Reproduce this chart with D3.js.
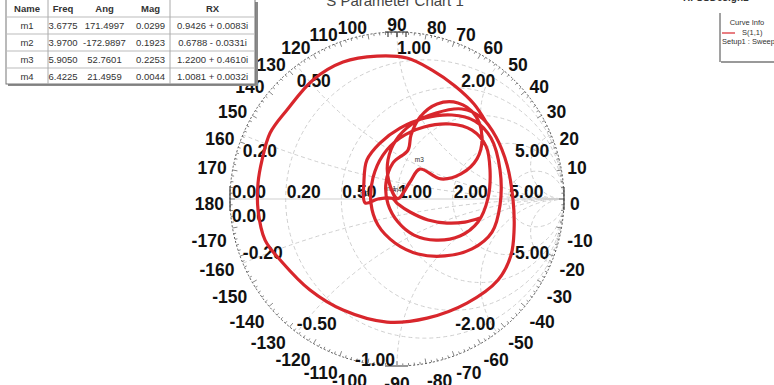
<!DOCTYPE html>
<html><head><meta charset="utf-8">
<script src="https://cdn.jsdelivr.net/npm/d3@7"></script>
<style>
html,body{margin:0;padding:0;background:#fff;}
svg{display:block;font-family:"Liberation Sans",Arial,sans-serif;}
</style></head><body>
<svg id="chart" width="774" height="385"></svg>
<script>
// S(1,1) reflection coefficient along the sweep (real / imaginary parts)
const s11Re = [0.497,0.407,0.299,0.186,0.078,0.006,-0.030,-0.114,-0.191,-0.198,-0.180,-0.102,0.018,0.168,0.329,0.467,0.563,0.617,0.617,0.569,0.449,0.287,0.126,-0.012,-0.114,-0.156,-0.144,-0.084,0.018,0.162,0.317,0.449,0.533,0.557,0.545,0.485,0.377,0.234,0.102,0.006,-0.054,-0.066,-0.024,0.066,0.084,0.138,0.240,0.365,0.467,0.509,0.479,0.383,0.263,0.136,0.078,0.004,-0.048,-0.054,-0.006,0.090,0.234,0.389,0.509,0.593,0.659,0.695,0.701,0.683,0.605,0.419,0.180,-0.060,-0.323,-0.521,-0.689,-0.790,-0.832,-0.832,-0.808,-0.760,-0.659,-0.503,-0.323,-0.120,0.060,0.210,0.347,0.461,0.533];
const s11Im = [-0.114,-0.138,-0.144,-0.126,-0.078,-0.030,0.004,0.000,-0.023,0.102,0.234,0.335,0.425,0.485,0.503,0.467,0.365,0.174,-0.036,-0.198,-0.299,-0.341,-0.329,-0.263,-0.156,-0.024,0.126,0.263,0.365,0.431,0.449,0.413,0.317,0.174,0.006,-0.138,-0.222,-0.246,-0.216,-0.138,-0.030,0.096,0.216,0.293,0.383,0.491,0.569,0.575,0.503,0.371,0.240,0.150,0.120,0.179,0.102,0.002,0.102,0.234,0.353,0.449,0.515,0.539,0.485,0.371,0.204,-0.006,-0.186,-0.335,-0.485,-0.623,-0.713,-0.737,-0.665,-0.545,-0.377,-0.246,-0.066,0.096,0.234,0.395,0.533,0.713,0.820,0.856,0.844,0.772,0.677,0.569,0.461];

// Smith grid
const resistanceValues = [0.2, 0.5, 1, 2, 5];
const reactanceValues = [0.2, 0.5, 1, 2, 5];
const angleTicks = [-170,-160,-150,-140,-130,-120,-110,-100,-90,-80,-70,-60,-50,-40,-30,-20,-10,0,10,20,30,40,50,60,70,80,90,100,110,120,130,140,150,160,170,180];

// marker table
const tableHeader = ["Name","Freq","Ang","Mag","RX"];
const markerNames = ["m1","m2","m3","m4"];
const markerFreq = ["3.6775","3.9700","5.9050","6.4225"];
const markerAng = [171.4997,-172.9897,52.7601,21.4959];
const markerMag = [0.0299,0.1923,0.2253,0.0044];
const markerRX = ["0.9426 + 0.0083i","0.6788 - 0.0331i","1.2200 + 0.4610i","1.0081 + 0.0032i"];

const svg = d3.select("#chart");
svg.append("rect").attr("width",774).attr("height",385).attr("fill","#fff");

const cx = 397, cy = 199, R = 167;
const xs = d3.scaleLinear().domain([-1,1]).range([cx-R, cx+R]);
const ys = d3.scaleLinear().domain([-1,1]).range([cy+R, cy-R]);
const k = R; // pixels per unit of |Gamma|

// title (mostly above the top edge)
svg.append("text").attr("x",395).attr("y",6).attr("text-anchor","middle")
  .attr("font-size",15).attr("fill","#444").text("S Parameter Chart 1");
svg.append("text").attr("x",683).attr("y",1).attr("font-size",10).attr("font-weight","bold")
  .attr("fill","#333").text("HFSSDesign1");

// clip for grid
svg.append("clipPath").attr("id","unit").append("circle")
  .attr("cx",cx).attr("cy",cy).attr("r",R);
const grid = svg.append("g").attr("clip-path","url(#unit)")
  .attr("fill","none").attr("stroke","#cfcfcf").attr("stroke-width",1)
  .attr("stroke-dasharray","4,3");

resistanceValues.forEach(r => {
  grid.append("circle").attr("cx",xs(r/(1+r))).attr("cy",ys(0)).attr("r",k/(1+r));
});
reactanceValues.forEach(x => {
  [1,-1].forEach(s => {
    grid.append("circle").attr("cx",xs(1)).attr("cy",ys(s/x)).attr("r",k/x);
  });
});
svg.append("line").attr("x1",xs(-1)).attr("x2",xs(1)).attr("y1",ys(0)).attr("y2",ys(0))
  .attr("stroke","#cfcfcf").attr("stroke-width",1);

// outer ring with angle ticks
svg.append("circle").attr("cx",cx).attr("cy",cy).attr("r",R).attr("fill","none")
  .attr("stroke","#555").attr("stroke-width",1).attr("stroke-dasharray","2,2");
const ring = svg.append("g").attr("stroke","#666").attr("stroke-width",0.8);
d3.range(-178,181,2).forEach(a => {
  const t = a*Math.PI/180, len = (a%10===0) ? 5 : 2.5;
  ring.append("line")
    .attr("x1",cx+R*Math.cos(t)).attr("y1",cy-R*Math.sin(t))
    .attr("x2",cx+(R-len)*Math.cos(t)).attr("y2",cy-(R-len)*Math.sin(t));
});
// cardinal brackets
const br = svg.append("g").attr("stroke","#444").attr("stroke-width",1.2);
br.append("line").attr("x1",xs(-1)).attr("x2",xs(-1)).attr("y1",cy-13).attr("y2",cy+12);
br.append("line").attr("x1",xs(1)).attr("x2",xs(1)).attr("y1",cy-12).attr("y2",cy+11);
br.append("line").attr("x1",cx-12).attr("x2",cx+11).attr("y1",ys(1)).attr("y2",ys(1));
[-9,0,9].forEach(d => br.append("line").attr("x1",cx+d).attr("x2",cx+d).attr("y1",ys(1)).attr("y2",ys(1)+5));
br.append("line").attr("x1",cx-12).attr("x2",cx+11).attr("y1",ys(-1)).attr("y2",ys(-1))
  .attr("stroke","#999").attr("stroke-width",2);

// angle labels around the ring
const labFont = 17.5, capH = 12.5, rho = 173, ringCy = cy + 5;
const angG = svg.append("g").attr("font-size",labFont).attr("font-weight","bold").attr("fill","#111");
angleTicks.forEach(a => {
  const t = a*Math.PI/180, c = Math.cos(t), s = Math.sin(t);
  const txt = angG.append("text").attr("text-anchor","middle").text(a);
  const w = txt.node().getComputedTextLength();
  const px = cx + rho*c, py = ringCy - rho*s;
  const sx = Math.abs(c) < 0.05 ? 0 : Math.sign(c);
  const sy = Math.abs(s) < 0.05 ? 0 : Math.sign(s);
  const mx = px + sx*w/2, my = py - sy*capH/2;
  txt.attr("x",mx).attr("y",my + capH/2);
});

// resistance / reactance value labels
const valG = svg.append("g").attr("font-size",labFont).attr("font-weight","bold").attr("fill","#111");
valG.append("text").attr("x",xs(-1)+2).attr("y",cy-1).text("0.00");
valG.append("text").attr("x",xs(-1)+2).attr("y",cy+23).text("0.00");
resistanceValues.forEach(r => {
  valG.append("text").attr("x",xs((r-1)/(r+1))+1).attr("y",cy-1).text(r.toFixed(2));
});
reactanceValues.forEach(x => {
  [1,-1].forEach(s => {
    const d = 1 + x*x, gr = (x*x-1)/d, gi = s*2*x/d;
    const px = xs(gr), py = ys(gi);
    const anchor = (x < 1 || (x === 1 && s > 0)) ? "start" : "end";
    const off = anchor === "end" ? -2 : 0;
    const by = s > 0 ? py + 22 : py - 5*Math.abs(gr);
    valG.append("text").attr("x",px+off).attr("y",by).attr("text-anchor",anchor)
      .text((s < 0 ? "-" : "") + x.toFixed(2));
  });
});

// marker labels
const mk = svg.append("g").attr("font-size",6.5).attr("fill","#333");
markerNames.forEach((m,i) => {
  const t = markerAng[i]*Math.PI/180;
  const gx = xs(markerMag[i]*Math.cos(t)), gy = ys(markerMag[i]*Math.sin(t));
  mk.append("text").attr("x",gx-5).attr("y",gy-7).text(m);
});

// S(1,1) trace
const pts = s11Re.map((v,i) => [v, s11Im[i]]);
const line = d3.line().x(d => xs(d[0])).y(d => ys(d[1])).curve(d3.curveCatmullRom.alpha(0.5));
svg.append("path").attr("d",line(pts)).attr("fill","none").attr("stroke","#d8262c")
  .attr("stroke-width",3.2).attr("stroke-linejoin","round").attr("stroke-linecap","round");

// marker table
const tx = 6, colEdges = [6,48,78,131,170,255], rowEdges = [0,17,34,51,68,84];
const tb = svg.append("g");
tb.append("rect").attr("x",tx+2).attr("y",2).attr("width",colEdges[5]-tx+1).attr("height",rowEdges[5]).attr("fill","#8a8a8a");
tb.append("rect").attr("x",tx).attr("y",-1).attr("width",colEdges[5]-tx).attr("height",rowEdges[5]+1)
  .attr("fill","#fff").attr("stroke","#777").attr("stroke-width",1);
rowEdges.slice(1,5).forEach(y => tb.append("line").attr("x1",tx).attr("x2",colEdges[5]).attr("y1",y).attr("y2",y)
  .attr("stroke","#bbb"));
[1,4].forEach(i => tb.append("line").attr("x1",colEdges[i]).attr("x2",colEdges[i]).attr("y1",-1).attr("y2",rowEdges[5])
  .attr("stroke","#aaa"));
const colMid = colEdges.slice(0,5).map((e,i) => (e + colEdges[i+1])/2);
tableHeader.forEach((h,i) => tb.append("text").attr("x",colMid[i]).attr("y",12).attr("text-anchor","middle")
  .attr("font-size",9.5).attr("font-weight","bold").attr("fill","#333").text(h));
markerNames.forEach((m,r) => {
  const y = (rowEdges[r+1]+rowEdges[r+2])/2 + 3.5;
  const cells = [m, markerFreq[r], markerAng[r].toFixed(4), markerMag[r].toFixed(4), markerRX[r]];
  cells.forEach((c,i) => tb.append("text").attr("x",colMid[i]).attr("y",y).attr("text-anchor","middle")
    .attr("font-size",9.5).attr("fill","#333").text(c));
});

// curve info legend
const lg = svg.append("g");
lg.append("line").attr("x1",720).attr("x2",720).attr("y1",13).attr("y2",62).attr("stroke","#444");
lg.append("line").attr("x1",721).attr("x2",774).attr("y1",62).attr("y2",62).attr("stroke","#999").attr("stroke-width",2);
lg.append("text").attr("x",747).attr("y",25).attr("text-anchor","middle").attr("font-size",7.5).attr("fill","#333").text("Curve Info");
lg.append("line").attr("x1",722).attr("x2",735).attr("y1",33).attr("y2",33).attr("stroke","#d8262c").attr("stroke-width",1.2);
lg.append("text").attr("x",742).attr("y",35).attr("font-size",7.5).attr("fill","#333").text("S(1,1)");
lg.append("text").attr("x",722).attr("y",44).attr("font-size",7.5).attr("fill","#333").text("Setup1 : Sweep");
</script></body></html>
